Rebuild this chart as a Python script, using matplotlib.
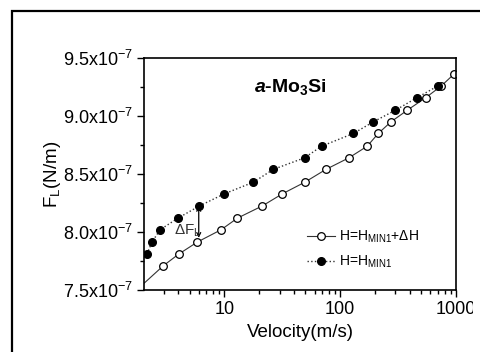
import matplotlib
matplotlib.use("Agg")
import matplotlib.pyplot as plt
from matplotlib.patches import Rectangle
from matplotlib.ticker import FuncFormatter, MultipleLocator

plt.rcParams['font.family'] = ['Liberation Sans', 'DejaVu Sans']
plt.rcParams['mathtext.fontset'] = 'custom'
plt.rcParams['mathtext.rm'] = 'Liberation Sans'
plt.rcParams['mathtext.it'] = 'Liberation Sans:italic'
plt.rcParams['mathtext.bf'] = 'Liberation Sans:bold'
plt.rcParams['mathtext.bfit'] = 'Liberation Sans:bold:italic'

# H = H_MIN1 + dH (open circles)
v_open = [1.7, 2.97, 4.03, 5.84, 9.36, 12.95, 21.2, 31.7, 49.5, 75.2, 118.8,
          171, 213, 274, 379, 550, 747, 968]
f_open = [7.49, 7.71, 7.81, 7.914, 8.02, 8.12, 8.225, 8.33, 8.43, 8.54, 8.64,
          8.74, 8.85, 8.95, 9.05, 9.16, 9.26, 9.365]

# H = H_MIN1 (filled circles)
v_fill = [2.14, 2.37, 2.78, 3.97, 6.08, 10.0, 17.8, 26.4, 49.2, 69.0, 130,
          193, 299, 463, 698]
f_fill = [7.81, 7.914, 8.02, 8.12, 8.225, 8.33, 8.43, 8.54, 8.64, 8.74, 8.85,
          8.95, 9.05, 9.16, 9.26]

scale = 1e-7
f_open = [f * scale for f in f_open]
f_fill = [f * scale for f in f_fill]


def ytick(val, pos):
    m = val / scale
    return r'$\mathregular{%.1fx10^{-7}}$' % m


fig = plt.figure(figsize=(4.8, 3.52), dpi=100)
ax = fig.add_axes([0.30, 0.176, 0.65, 0.659])

ax.plot(v_open, f_open, '-', color='#333333', lw=0.8, marker='o',
        ms=5.5, mfc='white', mec='black', mew=0.9,
        label=r'H=H$_{\mathregular{MIN1}}$+$\Delta$H')
ax.plot(v_fill, f_fill, ':', color='#333333', lw=1.0, marker='o',
        ms=5.5, mfc='black', mec='black',
        label=r'H=H$_{\mathregular{MIN1}}$')

ax.set_xscale('log')
ax.set_xlim(2.02, 1000)
ax.set_ylim(7.5e-7, 9.5e-7)
ax.yaxis.set_major_locator(MultipleLocator(0.5e-7))
ax.yaxis.set_minor_locator(MultipleLocator(0.25e-7))
ax.yaxis.set_major_formatter(FuncFormatter(ytick))
ax.set_xticks([10, 100, 1000])
ax.set_xticklabels(['10', '100', '1000'])

ax.tick_params(which='major', direction='out', length=5, width=1,
               labelsize=13, pad=3)
ax.tick_params(which='minor', direction='out', length=3, width=1)
for s in ax.spines.values():
    s.set_linewidth(1.2)

ax.set_xlabel('Velocity(m/s)', fontsize=13.5, labelpad=4)
ax.set_ylabel(r'F$_\mathregular{L}$(N/m)', fontsize=13.5, labelpad=0)

ax.text(0.47, 0.875, r'$\mathbfit{a}$-Mo$_\mathbf{3}$Si', transform=ax.transAxes,
        fontsize=14, fontweight='bold', ha='center', va='center')

ax.annotate('', xy=(6.0, 7.914e-7), xytext=(6.0, 8.225e-7),
            arrowprops=dict(arrowstyle='<->', color='black', lw=0.9,
                            shrinkA=0, shrinkB=3, mutation_scale=7))
ax.text(3.7, 8.01e-7, r'$\Delta$F$_\mathregular{L}$', fontsize=11,
        color='#333333', va='center')

ax.legend(loc='center left', bbox_to_anchor=(0.50, 0.175), frameon=False,
          fontsize=10, handlelength=2.0, handletextpad=0.3,
          labelspacing=0.6, borderpad=0)

frame = Rectangle((11.5 / 480, -0.2), 0.99, 1.2 - 10.5 / 352,
                  transform=fig.transFigure,
                  fill=False, ec='black', lw=1.6, zorder=5)
fig.add_artist(frame)
cover = Rectangle((473.0 / 480, 0), 0.05, 1, transform=fig.transFigure,
                  fc='white', ec='none', zorder=4)
fig.add_artist(cover)

fig.savefig('out.png', dpi=100)
